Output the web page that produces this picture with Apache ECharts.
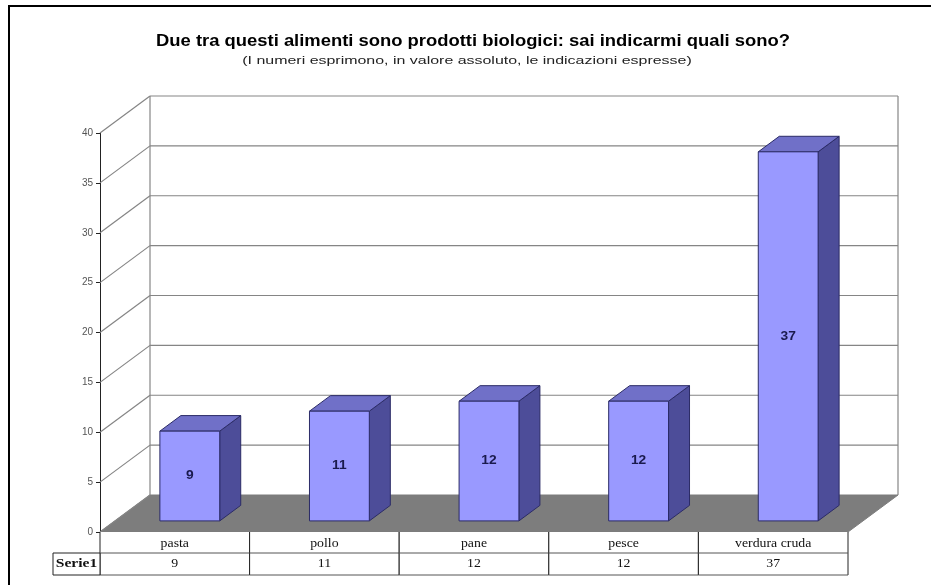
<!DOCTYPE html>
<html>
<head>
<meta charset="utf-8">
<script src="https://cdn.jsdelivr.net/npm/echarts@6/dist/echarts.min.js"></script>
<style>
  html, body { margin: 0; padding: 0; background: #ffffff; }
  #chart { width: 931px; height: 585px; }
</style>
</head>
<body>
<div id="chart"></div>
<script>
// ---- data ----
const categories = ['pasta', 'pollo', 'pane', 'pesce', 'verdura cruda'];
const values = [9, 11, 12, 12, 37];
const seriesName = 'Serie1';
const yTicks = [0, 5, 10, 15, 20, 25, 30, 35, 40];
const titleText = 'Due tra questi alimenti sono prodotti biologici: sai indicarmi quali sono?';
const subtitleText = '(I numeri esprimono, in valore assoluto, le indicazioni espresse)';

// ---- 3D look ----
const DEPTH_X = 50;      // horizontal shift from front plane to back wall
const DEPTH_Y = -37;     // vertical shift from front plane to back wall
const BAR_FRONT = 0.3;   // bar front face position within the depth
const BAR_BACK = 0.72;   // bar back face position within the depth
const BAR_WIDTH = 0.4;   // bar width as a share of a category slot
const ROW_CAT = 21;      // table: category row height
const ROW_VAL = 22;      // table: value row height
const LABEL_CELL = 47;   // table: width of the series name cell
const TEXT_STRETCH = 1.15; // text in this chart is drawn slightly widened

const SANS = '"Liberation Sans", Arial, sans-serif';
const SERIF = '"Liberation Serif", "Times New Roman", serif';

const chart = echarts.init(document.getElementById('chart'), null, { renderer: 'canvas' });

// Side wall, back wall gridlines and floor
function renderWalls(params, api) {
  const cs = params.coordSys;
  const v = api.value(0);
  const y = api.coord([0, v])[1];
  const x0 = cs.x, x1 = cs.x + cs.width;
  const children = [];
  const grid = { stroke: '#858585', lineWidth: 1.2 };
  if (v === 0) {
    children.push({
      type: 'polygon',
      shape: { points: [[x0, y], [x1, y], [x1 + DEPTH_X, y + DEPTH_Y], [x0 + DEPTH_X, y + DEPTH_Y]] },
      style: { fill: '#7d7d7d', stroke: '#7d7d7d' }
    });
    const yTop = api.coord([0, yTicks[yTicks.length - 1]])[1];
    children.push({ type: 'line', shape: { x1: x0 + DEPTH_X, y1: yTop + DEPTH_Y, x2: x0 + DEPTH_X, y2: y + DEPTH_Y }, style: grid });
    children.push({ type: 'line', shape: { x1: x1 + DEPTH_X, y1: yTop + DEPTH_Y, x2: x1 + DEPTH_X, y2: y + DEPTH_Y }, style: grid });
    children.push({ type: 'line', shape: { x1: x0, y1: y, x2: x0 + DEPTH_X, y2: y + DEPTH_Y }, style: grid });
  } else {
    children.push({ type: 'line', shape: { x1: x0, y1: y, x2: x0 + DEPTH_X, y2: y + DEPTH_Y }, style: grid });
    children.push({ type: 'line', shape: { x1: x0 + DEPTH_X, y1: y + DEPTH_Y, x2: x1 + DEPTH_X, y2: y + DEPTH_Y }, style: grid });
  }
  return { type: 'group', children };
}

// 3D columns with value labels on the front face
function renderBars(params, api) {
  const i = api.value(0), v = api.value(1);
  const top = api.coord([i, v]);
  const base = api.coord([i, 0]);
  const slot = api.size([1, 0])[0];
  const bw = slot * BAR_WIDTH;
  const fx = DEPTH_X * BAR_FRONT, fy = DEPTH_Y * BAR_FRONT;
  const dx = DEPTH_X * (BAR_BACK - BAR_FRONT), dy = DEPTH_Y * (BAR_BACK - BAR_FRONT);
  const xl = top[0] - bw / 2 + fx, xr = xl + bw;
  const yt = top[1] + fy, yb = base[1] + fy;
  const edge = '#2b2b66';
  return {
    type: 'group',
    children: [
      { type: 'polygon', shape: { points: [[xr, yt], [xr + dx, yt + dy], [xr + dx, yb + dy], [xr, yb]] },
        style: { fill: '#4d4d99', stroke: edge, lineWidth: 1 } },
      { type: 'polygon', shape: { points: [[xl, yt], [xr, yt], [xr + dx, yt + dy], [xl + dx, yt + dy]] },
        style: { fill: '#7070c8', stroke: edge, lineWidth: 1 } },
      { type: 'rect', shape: { x: xl, y: yt, width: bw, height: yb - yt },
        style: { fill: '#9999ff', stroke: edge, lineWidth: 1 } },
      { type: 'text', x: xl + bw / 2, y: (yt + yb) / 2, scaleX: TEXT_STRETCH,
        style: { text: String(v), fill: '#1a1a4d', font: 'bold 12px ' + SANS, textAlign: 'center', textVerticalAlign: 'middle' } }
    ]
  };
}

// Data table under the plot
function renderTable(params, api) {
  const cs = params.coordSys;
  const i = api.value(0);
  const c = api.coord([i, 0]);
  const slot = api.size([1, 0])[0];
  const xl = c[0] - slot / 2, xr = c[0] + slot / 2;
  const y0 = cs.y + cs.height;
  const y1 = y0 + ROW_CAT, y2 = y1 + ROW_VAL;
  const line = { stroke: '#222', lineWidth: 1 };
  const hline = { stroke: '#555', lineWidth: 1 };
  const children = [
    { type: 'rect', shape: { x: xl, y: y0, width: slot, height: ROW_CAT + ROW_VAL }, style: { fill: '#fff' } },
    { type: 'line', shape: { x1: xl, y1: y0, x2: xl, y2: y2 }, style: line },
    { type: 'line', shape: { x1: xr, y1: y0, x2: xr, y2: y2 }, style: line },
    { type: 'line', shape: { x1: xl, y1: y1, x2: xr, y2: y1 }, style: hline },
    { type: 'line', shape: { x1: xl, y1: y2, x2: xr, y2: y2 }, style: hline },
    { type: 'text', x: c[0], y: (y0 + y1) / 2 + 1, scaleX: TEXT_STRETCH,
      style: { text: categories[i], fill: '#111', font: '12px ' + SERIF, textAlign: 'center', textVerticalAlign: 'middle' } },
    { type: 'text', x: c[0], y: (y1 + y2) / 2, scaleX: TEXT_STRETCH,
      style: { text: String(values[i]), fill: '#111', font: '12px ' + SERIF, textAlign: 'center', textVerticalAlign: 'middle' } }
  ];
  if (i === 0) {
    children.push(
      { type: 'rect', shape: { x: xl - LABEL_CELL, y: y1, width: LABEL_CELL, height: ROW_VAL },
        style: { fill: '#fff', stroke: '#222', lineWidth: 1 } },
      { type: 'text', x: xl - LABEL_CELL / 2, y: (y1 + y2) / 2, scaleX: 1.3,
        style: { text: seriesName, fill: '#111', font: 'bold 12px ' + SERIF, textAlign: 'center', textVerticalAlign: 'middle' } }
    );
  }
  return { type: 'group', children };
}

const option = {
  backgroundColor: '#ffffff',
  animation: false,
  grid: { left: 100, right: 83, top: 133, bottom: 53 },
  xAxis: {
    type: 'category',
    data: categories,
    axisLine: { show: false },
    axisTick: { show: false },
    axisLabel: { show: false },
    splitLine: { show: false }
  },
  yAxis: {
    type: 'value',
    min: 0,
    max: 40,
    interval: 5,
    axisLine: { show: true, lineStyle: { color: '#222', width: 1 } },
    axisTick: { show: true, length: 4, lineStyle: { color: '#222' } },
    axisLabel: { color: '#555', fontSize: 10, fontFamily: SANS, margin: 7 },
    splitLine: { show: false }
  },
  graphic: [
    { type: 'rect', z: 100, shape: { x: 9, y: 6, width: 960, height: 620 },
      style: { fill: 'none', stroke: '#000', lineWidth: 2 } },
    { type: 'text', z: 100, x: 473, y: 42, scaleX: 1.15,
      style: { text: titleText, font: 'bold 16px ' + SANS, fill: '#000', textAlign: 'center', textVerticalAlign: 'middle' } },
    { type: 'text', z: 100, x: 467, y: 61, scaleX: 1.45,
      style: { text: subtitleText, font: '11px ' + SANS, fill: '#222', textAlign: 'center', textVerticalAlign: 'middle' } }
  ],
  series: [
    { type: 'custom', name: 'walls', z: 1, renderItem: renderWalls, data: yTicks.map(v => [v]), encode: { y: 0 }, silent: true },
    { type: 'custom', name: seriesName, z: 3, renderItem: renderBars, data: values.map((v, i) => [i, v]), encode: { x: 0, y: 1 } },
    { type: 'custom', name: 'table', z: 2, renderItem: renderTable, data: categories.map((c, i) => [i]), encode: { x: 0 }, silent: true }
  ]
};

chart.setOption(option);
</script>
</body>
</html>
